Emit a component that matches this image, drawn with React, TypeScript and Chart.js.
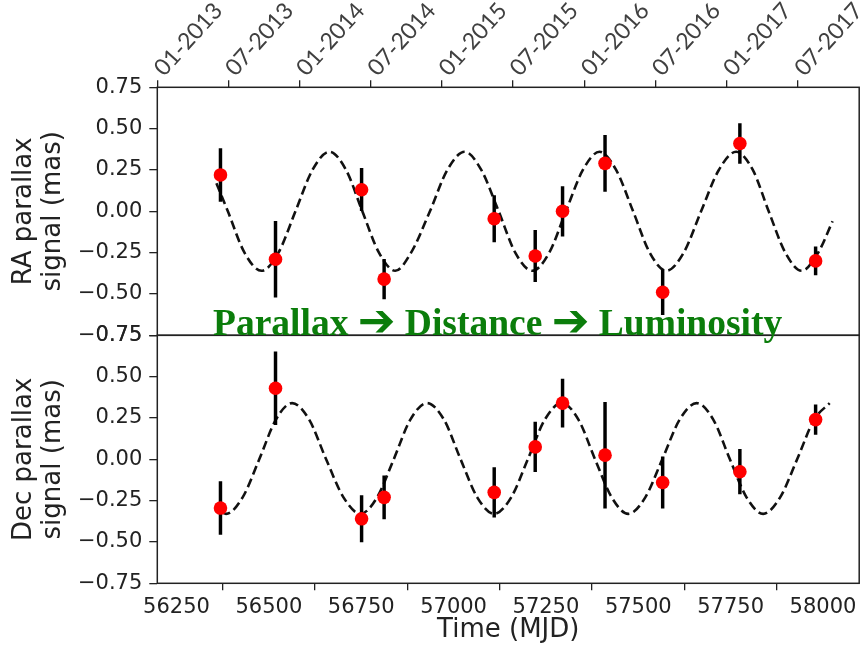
import React, { useEffect, useRef } from 'react';
import { Chart, registerables } from 'chart.js';

Chart.register(...registerables);

// ---- data ----
const MJD_MIN = 56198;
const MJD_MAX = 58098;
const MJD_TICKS = [56250, 56500, 56750, 57000, 57250, 57500, 57750, 58000];
const TOP_DATE_LABELS = ['01-2013', '07-2013', '01-2014', '07-2014', '01-2015', '07-2015', '01-2016', '07-2016', '01-2017', '07-2017'];
const Y_TICKS = [-0.75, -0.5, -0.25, 0, 0.25, 0.5, 0.75];

const OBS_MJD = [56369, 56518, 56751, 56812, 57110, 57221, 57295, 57410, 57566, 57775, 57980];
const RA_VALUES = [0.22, -0.29, 0.13, -0.41, -0.045, -0.27, 0.0, 0.29, -0.49, 0.41, -0.3];
const RA_ERRORS = [0.16, 0.23, 0.13, 0.12, 0.14, 0.155, 0.15, 0.17, 0.135, 0.12, 0.085];
const DEC_VALUES = [-0.295, 0.43, -0.36, -0.23, -0.2, 0.075, 0.34, 0.025, -0.14, -0.075, 0.24];
const DEC_ERRORS = [0.16, 0.22, 0.14, 0.13, 0.15, 0.15, 0.145, 0.32, 0.155, 0.135, 0.09];

const RA_CURVE_MJD = [56358, 56389, 56434, 56480, 56526, 56572, 56618, 56664, 56709, 56753, 56798, 56842, 56885, 56936, 56983, 57030, 57075, 57122, 57167, 57213, 57259, 57304, 57350, 57395, 57440, 57486, 57531, 57576, 57623, 57670, 57718, 57765, 57810, 57853, 57898, 57942, 57987, 58026];
const RA_CURVE_VALUES = [0.17, 0.0, -0.25, -0.36, -0.25, 0.0, 0.25, 0.36, 0.25, 0.0, -0.25, -0.36, -0.25, 0.0, 0.25, 0.36, 0.25, 0.0, -0.25, -0.36, -0.25, 0.0, 0.25, 0.36, 0.25, 0.0, -0.25, -0.36, -0.25, 0.0, 0.25, 0.36, 0.25, 0.0, -0.25, -0.36, -0.25, -0.06];

const DEC_CURVE_MJD = [56372, 56384, 56429, 56474, 56519, 56563, 56609, 56655, 56702, 56748, 56793, 56838, 56883, 56928, 56974, 57019, 57064, 57110, 57156, 57201, 57247, 57293, 57338, 57383, 57428, 57473, 57519, 57565, 57612, 57658, 57703, 57748, 57793, 57838, 57884, 57930, 57976, 58018];
const DEC_CURVE_VALUES = [-0.32, -0.33, -0.23, 0.0, 0.24, 0.34, 0.24, 0.0, -0.23, -0.33, -0.23, 0.0, 0.24, 0.34, 0.24, 0.0, -0.23, -0.33, -0.23, 0.0, 0.24, 0.34, 0.24, 0.0, -0.23, -0.33, -0.23, 0.0, 0.24, 0.34, 0.24, 0.0, -0.23, -0.33, -0.23, 0.0, 0.24, 0.34];

const OVERLAY_WORDS = ['Parallax', 'Distance', 'Luminosity'];
const OVERLAY_ARROW = '\u2794';

// ---- styling ----
const W = 866;
const H = 649;
const AXIS_COLOR = '#222222';
const TEXT_COLOR = '#222222';
const TICK_FONT = { family: 'DejaVu Sans', size: 21 };
const TITLE_FONT = { family: 'DejaVu Sans', size: 26, lineHeight: 1.1 };
const PLOT_LEFT = 157.3;
const PLOT_RIGHT = 860.7;
const TOP_PANEL_TOP = 87.3;
const PANEL_SPLIT = 335.3;
const BOTTOM_PANEL_BOTTOM = 583.3;
const TOP_CANVAS_H = 360;

const fmtY = (v: any) => {
  const n = Number(v);
  const s = Math.abs(n).toFixed(2);
  return n < -1e-9 ? '\u2212' + s : s;
};

const framePlugin = {
  id: 'frame',
  afterDraw(chart: any) {
    const { ctx, chartArea: a } = chart;
    ctx.save();
    ctx.strokeStyle = AXIS_COLOR;
    ctx.lineWidth = 1.5;
    ctx.strokeRect(a.left, a.top, a.right - a.left, a.bottom - a.top);
    ctx.restore();
  },
};

// rotated date labels of the top axis, placed at the x2 scale's tick pixels
const topLabelsPlugin = {
  id: 'topLabels',
  afterDraw(chart: any) {
    const s = chart.scales.x2;
    if (!s) return;
    const { ctx } = chart;
    ctx.save();
    ctx.font = '23px Lato';
    ctx.fillStyle = '#404040';
    ctx.textAlign = 'left';
    ctx.textBaseline = 'alphabetic';
    TOP_DATE_LABELS.forEach((label, i) => {
      const px = s.getPixelForValue(i);
      ctx.save();
      ctx.translate(px + 7, s.bottom - 10);
      ctx.rotate((-48 * Math.PI) / 180);
      ctx.fillText(label, 0, 0);
      ctx.restore();
    });
    ctx.restore();
  },
};

function buildDatasets(values: number[], errors: number[], curveX: number[], curveY: number[]) {
  return [
    {
      type: 'scatter',
      data: OBS_MJD.map((x, i) => ({ x, y: values[i] })),
      backgroundColor: '#ff0000',
      borderWidth: 0,
      pointRadius: 6.8,
      pointHoverRadius: 6.8,
      order: 0,
    },
    {
      type: 'bar',
      data: OBS_MJD.map((x, i) => ({ x, y: [values[i] - errors[i], values[i] + errors[i]] })),
      backgroundColor: '#000000',
      borderWidth: 0,
      barThickness: 2.8,
      order: 1,
    },
    {
      type: 'line',
      data: curveX.map((x, i) => ({ x, y: curveY[i] })),
      borderColor: '#111111',
      borderWidth: 2.6,
      borderDash: [9, 4.5],
      pointRadius: 0,
      fill: false,
      cubicInterpolationMode: 'monotone',
      order: 2,
    },
  ];
}

function yScale(title: string[]) {
  return {
    type: 'linear',
    min: -0.75,
    max: 0.75,
    afterBuildTicks: (s: any) => {
      s.ticks = Y_TICKS.map((v) => ({ value: v }));
    },
    afterFit: (s: any) => {
      s.width = PLOT_LEFT;
    },
    ticks: {
      callback: fmtY,
      font: TICK_FONT,
      color: TEXT_COLOR,
      padding: 7,
    },
    grid: { drawOnChartArea: false, tickLength: 8, color: AXIS_COLOR, lineWidth: 1.3 },
    border: { display: false },
    title: {
      display: true,
      text: title,
      font: TITLE_FONT,
      color: TEXT_COLOR,
      padding: { top: 10, bottom: 0 },
    },
  };
}

function TopPanel() {
  const ref = useRef<HTMLCanvasElement>(null);
  useEffect(() => {
    if (!ref.current) return;
    const chart = new Chart(ref.current, {
      type: 'line',
      data: { datasets: buildDatasets(RA_VALUES, RA_ERRORS, RA_CURVE_MJD, RA_CURVE_VALUES) as any },
      options: {
        responsive: false,
        animation: false,
        devicePixelRatio: 1,
        layout: { padding: { left: 0, right: W - PLOT_RIGHT, top: 0, bottom: TOP_CANVAS_H - PANEL_SPLIT } },
        plugins: { legend: { display: false }, tooltip: { enabled: false } },
        scales: {
          x: { type: 'linear', min: MJD_MIN, max: MJD_MAX, display: false, offset: false },
          x2: {
            type: 'linear',
            position: 'top',
            min: 0,
            max: (PLOT_RIGHT - PLOT_LEFT) / 71.3,
            afterBuildTicks: (s: any) => {
              s.ticks = TOP_DATE_LABELS.map((_, i) => ({ value: i }));
            },
            afterFit: (s: any) => {
              s.height = TOP_PANEL_TOP;
            },
            ticks: { display: false },
            grid: { drawOnChartArea: false, tickLength: 7, color: AXIS_COLOR, lineWidth: 1.3 },
            border: { display: false },
          },
          y: yScale(['RA parallax', 'signal (mas)']),
        },
      } as any,
      plugins: [framePlugin, topLabelsPlugin],
    });
    return () => chart.destroy();
  }, []);
  return (
    <canvas
      ref={ref}
      width={W}
      height={TOP_CANVAS_H}
      style={{ position: 'absolute', left: 0, top: 0, width: W, height: TOP_CANVAS_H }}
    />
  );
}

function BottomPanel() {
  const ref = useRef<HTMLCanvasElement>(null);
  useEffect(() => {
    if (!ref.current) return;
    const chart = new Chart(ref.current, {
      type: 'line',
      data: { datasets: buildDatasets(DEC_VALUES, DEC_ERRORS, DEC_CURVE_MJD, DEC_CURVE_VALUES) as any },
      options: {
        responsive: false,
        animation: false,
        devicePixelRatio: 1,
        layout: { padding: { left: 0, right: W - PLOT_RIGHT, top: PANEL_SPLIT, bottom: 0 } },
        plugins: { legend: { display: false }, tooltip: { enabled: false } },
        scales: {
          x: {
            type: 'linear',
            position: 'bottom',
            min: MJD_MIN,
            max: MJD_MAX,
            offset: false,
            afterBuildTicks: (s: any) => {
              s.ticks = MJD_TICKS.map((v) => ({ value: v }));
            },
            afterFit: (s: any) => {
              s.height = H - BOTTOM_PANEL_BOTTOM;
            },
            ticks: {
              autoSkip: false,
              maxRotation: 0,
              minRotation: 0,
              padding: 5,
              font: TICK_FONT,
              color: TEXT_COLOR,
              callback: (v: any) => String(Math.round(Number(v))),
            },
            grid: { drawOnChartArea: false, tickLength: 7, color: AXIS_COLOR, lineWidth: 1.3 },
            border: { display: false },
            title: {
              display: true,
              text: 'Time (MJD)',
              font: { family: 'DejaVu Sans', size: 26, lineHeight: 1.2 },
              color: TEXT_COLOR,
              padding: { top: 0, bottom: 3 },
            },
          },
          y: yScale(['Dec parallax', 'signal (mas)']),
        },
      } as any,
      plugins: [framePlugin],
    });
    return () => chart.destroy();
  }, []);
  return (
    <canvas
      ref={ref}
      width={W}
      height={H}
      style={{ position: 'absolute', left: 0, top: 0, width: W, height: H }}
    />
  );
}

export default function App() {
  const arrowStyle = {
    fontFamily: '"DejaVu Sans", sans-serif',
    fontSize: 45,
    fontWeight: 700,
    lineHeight: '37px',
    verticalAlign: '-1px',
  } as const;
  return (
    <div style={{ position: 'fixed', left: 0, top: 0, width: W, height: H, background: '#ffffff', overflow: 'hidden' }}>
      <TopPanel />
      <BottomPanel />
      <div
        style={{
          position: 'absolute',
          left: 213,
          top: 302,
          height: 37,
          fontFamily: '"Liberation Serif", serif',
          fontWeight: 700,
          fontSize: 37.5,
          lineHeight: '37px',
          color: '#0b7d0b',
          whiteSpace: 'nowrap',
          pointerEvents: 'none',
        }}
      >
        {OVERLAY_WORDS[0]} <span style={arrowStyle}>{OVERLAY_ARROW}</span> {OVERLAY_WORDS[1]}{' '}
        <span style={arrowStyle}>{OVERLAY_ARROW}</span> {OVERLAY_WORDS[2]}
      </div>
    </div>
  );
}
